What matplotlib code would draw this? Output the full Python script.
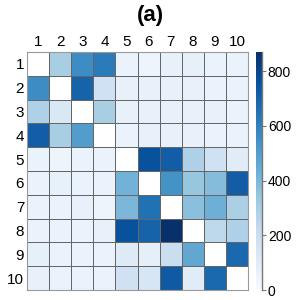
import numpy as np
import matplotlib
matplotlib.use("Agg")
import matplotlib.pyplot as plt

plt.rcParams['font.family'] = ['Liberation Sans', 'DejaVu Sans']

labels = [str(i) for i in range(1, 11)]

# values (diagonal left empty)
row1 = [0, 300, 560, 620, 55, 45, 65, 75, 55, 55]
row2 = [560, 0, 700, 180, 65, 65, 65, 65, 55, 55]
row3 = [280, 130, 0, 300, 65, 65, 65, 65, 65, 55]
row4 = [720, 300, 500, 0, 55, 65, 65, 65, 55, 55]
row5 = [55, 45, 55, 55, 0, 760, 720, 280, 180, 100]
row6 = [55, 70, 55, 55, 420, 0, 540, 340, 380, 720]
row7 = [55, 55, 65, 45, 400, 650, 0, 370, 430, 290]
row8 = [55, 55, 55, 65, 760, 700, 870, 0, 240, 280]
row9 = [75, 55, 55, 55, 110, 80, 200, 460, 0, 680]
row10 = [65, 55, 55, 55, 180, 140, 730, 100, 680, 0]

cbar_ticks = [0, 200, 400, 600, 800]

data = np.array([row1, row2, row3, row4, row5, row6, row7, row8, row9, row10], dtype=float)
np.fill_diagonal(data, np.nan)

fig = plt.figure(figsize=(3, 3), dpi=100)
ax = fig.add_axes([0.09, 0.033, 0.737, 0.794])
cax = fig.add_axes([0.852, 0.033, 0.022, 0.794])

cmap = plt.get_cmap('Blues').copy()
cmap.set_bad('white')
mesh = ax.pcolormesh(np.ma.masked_invalid(data), cmap=cmap, vmin=0, vmax=870,
                     edgecolor='#666666', linewidth=0.6)
ax.set_xlim(0, 10)
ax.set_ylim(10, 0)
ax.set_xticks(np.arange(10) + 0.5)
ax.set_xticklabels(labels)
ax.set_yticks(np.arange(10) + 0.5)
ax.set_yticklabels(labels)
ax.xaxis.tick_top()
ax.tick_params(length=0, labelsize=11, pad=2)
for s in ax.spines.values():
    s.set_edgecolor('#999999')
    s.set_linewidth(0.8)

cb = fig.colorbar(mesh, cax=cax, ticks=cbar_ticks)
cb.outline.set_visible(False)
cax.axvline(1, color='#777777', linewidth=1.0, clip_on=False)
cax.tick_params(labelsize=10, length=3, color='#777777', pad=1)

fig.text(0.5, 0.95, '(a)', ha='center', va='center', fontsize=16, fontweight='bold')

fig.savefig('out.png', dpi=100)
